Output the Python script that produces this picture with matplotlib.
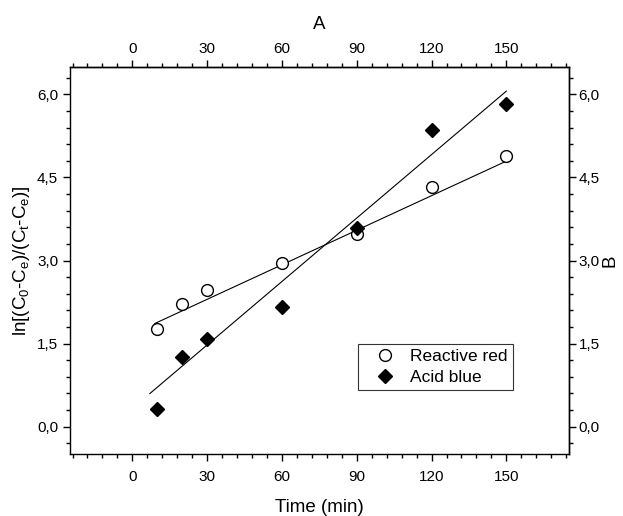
import matplotlib
matplotlib.use("Agg")
import matplotlib.pyplot as plt
from matplotlib.ticker import MultipleLocator, FuncFormatter
import numpy as np

plt.rcParams['font.family'] = ['Liberation Sans', 'DejaVu Sans']
plt.rcParams['mathtext.fontset'] = 'custom'
plt.rcParams['mathtext.rm'] = 'Liberation Sans'
plt.rcParams['mathtext.it'] = 'Liberation Sans:italic'

# data
time_min = [10, 20, 30, 60, 90, 120, 150]
reactive_red = [1.76, 2.22, 2.47, 2.95, 3.47, 4.32, 4.88]
acid_blue = [0.32, 1.26, 1.59, 2.16, 3.58, 5.36, 5.82]

# linear fits as drawn (slope, intercept) and their x ranges
red_fit = (0.0208, 1.675)
red_fit_range = [9, 150]
blue_fit = (0.0382, 0.329)
blue_fit_range = [7, 150]

x_ticks = [0, 30, 60, 90, 120, 150]
y_ticks = [0.0, 1.5, 3.0, 4.5, 6.0]

comma_fmt = FuncFormatter(lambda v, p: f"{v:.1f}".replace('.', ','))
int_fmt = FuncFormatter(lambda v, p: f"{v:.0f}")

fig = plt.figure(figsize=(6.23, 5.16), dpi=100)
ax = fig.add_axes([0.1124, 0.1196, 0.8004, 0.7511])

# fitted lines
for (k, b), xr in [(red_fit, red_fit_range), (blue_fit, blue_fit_range)]:
    xs = np.array(xr)
    ax.plot(xs, k * xs + b, color='black', lw=0.8, zorder=2)

ax.plot(time_min, reactive_red, ls='none', marker='o', ms=8.5, mfc='white',
        mec='black', mew=1.0, label='Reactive red', zorder=3)
ax.plot(time_min, acid_blue, ls='none', marker='D', ms=7.4, mfc='black',
        mec='black', mew=1.0, label='Acid blue', zorder=3)

ax.set_xlim(-25, 175)
ax.set_ylim(-0.5, 6.5)

top = ax.secondary_xaxis('top')
right = ax.secondary_yaxis('right')

for a in (ax.xaxis, top.xaxis):
    a.set_ticks(x_ticks)
    a.set_minor_locator(MultipleLocator(6))
    a.set_major_formatter(int_fmt)
for a in (ax.yaxis, right.yaxis):
    a.set_ticks(y_ticks)
    a.set_minor_locator(MultipleLocator(0.3))
    a.set_major_formatter(comma_fmt)

for a in (ax, top, right):
    a.tick_params(which='both', direction='out', labelsize=11, width=1.0)
    a.tick_params(which='major', length=5)
    a.tick_params(which='minor', length=3)
    for s in a.spines.values():
        s.set_linewidth(1.0)

ax.tick_params(axis='x', which='major', pad=6)
ax.tick_params(axis='y', which='major', pad=3.5)
top.tick_params(axis='x', which='major', pad=3)
right.tick_params(axis='y', which='major', pad=2)

ax.set_xlabel('Time (min)', fontsize=13.5, labelpad=11)
ax.set_ylabel(r'ln[(C$_\mathregular{0}$-C$_\mathregular{e}$)/(C$_\mathregular{t}$-C$_\mathregular{e}$)]',
              fontsize=13.5, labelpad=4)
top.set_xlabel('A', fontsize=13.5, labelpad=9)
right.set_ylabel('B', fontsize=13.5, labelpad=1.5)

leg = ax.legend(loc='upper left', bbox_to_anchor=(0.5746, 0.3333),
                bbox_transform=fig.transFigure, borderaxespad=0,
                fontsize=12.5, frameon=True, fancybox=False, numpoints=1,
                borderpad=0.3, handlelength=2.5, handletextpad=0.2,
                labelspacing=0.3)
leg.get_frame().set_edgecolor('black')
leg.get_frame().set_linewidth(0.8)

fig.savefig('out.png', dpi=100)
